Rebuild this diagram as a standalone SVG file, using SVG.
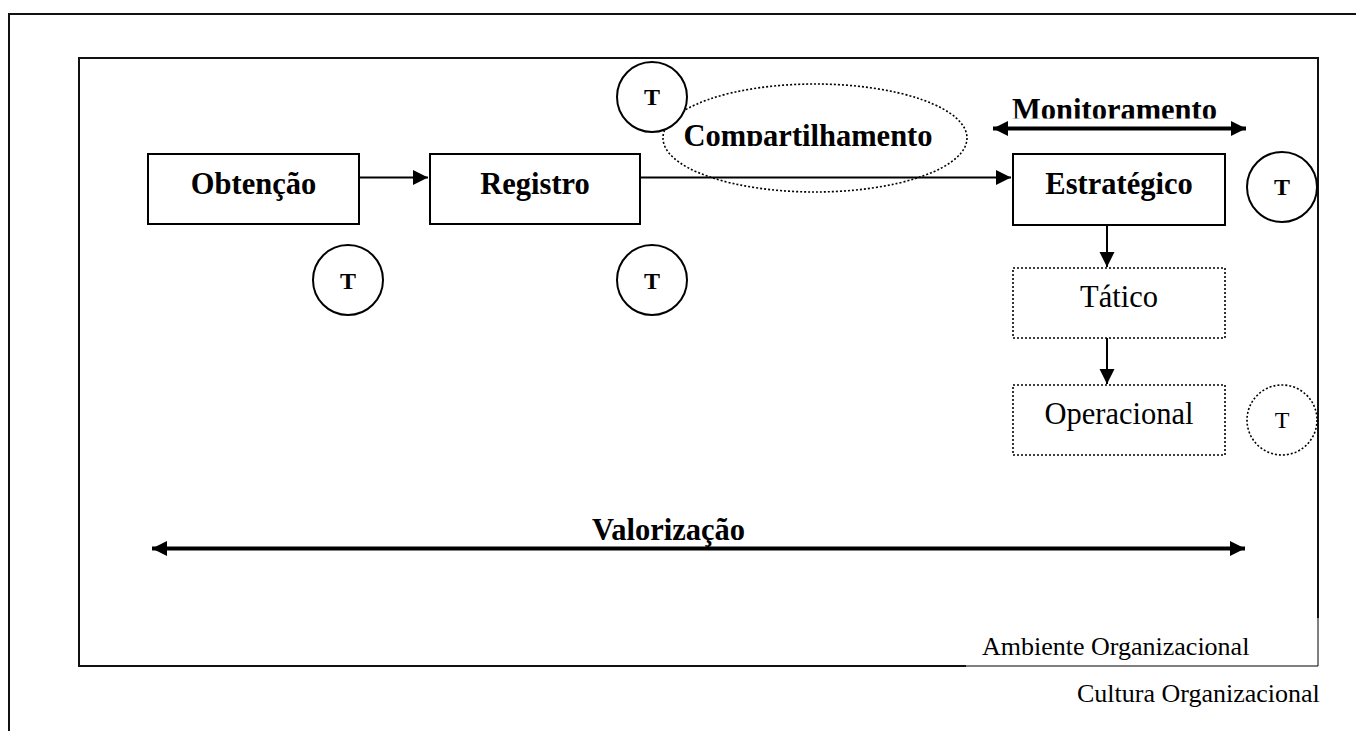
<svg xmlns="http://www.w3.org/2000/svg" width="1356" height="731" viewBox="0 0 1356 731">
<style>
.frame{fill:none;stroke:#111;stroke-width:2}
.box{fill:#fff;stroke:#000;stroke-width:2}
.dbox{fill:#fff;stroke:#000;stroke-width:1.6;stroke-dasharray:2 2}
.circ{fill:#fff;stroke:#000;stroke-width:2}
.dcirc{fill:#fff;stroke:#000;stroke-width:1.6;stroke-dasharray:2 2}
.lb{font-family:"Liberation Serif","Times New Roman",serif;font-weight:bold;font-size:30.5px;fill:#000}
.lr{font-family:"Liberation Serif","Times New Roman",serif;font-size:30.5px;fill:#000}
.tb{font-family:"Liberation Serif","Times New Roman",serif;font-weight:bold;font-size:24px;fill:#000}
.tr{font-family:"Liberation Serif","Times New Roman",serif;font-size:24px;fill:#000}
.sm{font-family:"Liberation Serif","Times New Roman",serif;font-size:26px;fill:#000}
.ar{fill:none;stroke:#000;stroke-width:2}
.thick{fill:none;stroke:#000;stroke-width:4}
</style>
<defs>
<marker id="ah" markerUnits="userSpaceOnUse" markerWidth="16" markerHeight="16" refX="15" refY="7.5" orient="auto-start-reverse" viewBox="0 0 16 16">
<path d="M0,0 L15,7.5 L0,15 z" fill="#000"/>
</marker>
<clipPath id="clipMon"><rect x="980" y="80" width="260" height="38.5"/></clipPath>
<clipPath id="clipComp"><rect x="660" y="100" width="300" height="46"/></clipPath>
</defs>
<g id="cultura">
<path class="frame" d="M9,731 V14 H1356"/>
<text class="sm" x="1077" y="702">Cultura Organizacional</text>
</g>
<g id="ambiente">
<rect class="frame" x="79" y="58" width="1239" height="608"/>
<rect x="966" y="618" width="354" height="50" fill="#fff"/>
<path d="M966,666 H1318 V618" fill="none" stroke="#000" stroke-width="1"/>
<text class="sm" x="982" y="655">Ambiente Organizacional</text>
</g>
<g id="compartilhamento">
<ellipse class="dcirc" cx="815" cy="138" rx="152" ry="54" style="fill:none"/>
<text class="lb" x="808" y="145.5" text-anchor="middle" clip-path="url(#clipComp)">Compartilhamento</text>
</g>
<g id="connectors">
<line class="ar" x1="359" y1="177.5" x2="428" y2="177.5" marker-end="url(#ah)"/>
<line class="ar" x1="640" y1="177.5" x2="1011" y2="177.5" marker-end="url(#ah)"/>
<line class="ar" x1="1107" y1="225" x2="1107" y2="267" marker-end="url(#ah)"/>
<line class="ar" x1="1107" y1="338" x2="1107" y2="384" marker-end="url(#ah)"/>
<line class="thick" x1="993" y1="128.5" x2="1246" y2="128.5" marker-start="url(#ah)" marker-end="url(#ah)"/>
<line class="thick" x1="152" y1="548.5" x2="1245" y2="548.5" marker-start="url(#ah)" marker-end="url(#ah)"/>
</g>
<g id="obtencao">
<rect class="box" x="148" y="154" width="211" height="70"/>
<text class="lb" x="253.5" y="194" text-anchor="middle">Obtenção</text>
</g>
<g id="registro">
<rect class="box" x="430" y="154" width="210" height="70"/>
<text class="lb" x="535" y="194" text-anchor="middle">Registro</text>
</g>
<g id="estrategico">
<rect class="box" x="1013" y="154" width="212" height="71"/>
<text class="lb" x="1119" y="194" text-anchor="middle">Estratégico</text>
</g>
<g id="tatico">
<rect class="dbox" x="1013" y="268" width="212" height="70"/>
<text class="lr" x="1119" y="307" text-anchor="middle">Tático</text>
</g>
<g id="operacional">
<rect class="dbox" x="1013" y="385" width="212" height="70"/>
<text class="lr" x="1119" y="424" text-anchor="middle">Operacional</text>
</g>
<g id="monitoramento">
<text class="lb" x="1114.5" y="119.5" text-anchor="middle" clip-path="url(#clipMon)">Monitoramento</text>
</g>
<g id="valorizacao">
<text class="lb" x="668.5" y="540" text-anchor="middle">Valorização</text>
</g>
<g id="t-registro-top">
<circle class="circ" cx="652" cy="97" r="35"/>
<text class="tb" x="652" y="105" text-anchor="middle">T</text>
</g>
<g id="t-obtencao">
<circle class="circ" cx="348" cy="280" r="35"/>
<text class="tb" x="348" y="288.5" text-anchor="middle">T</text>
</g>
<g id="t-registro">
<circle class="circ" cx="652" cy="280" r="35"/>
<text class="tb" x="652" y="288.5" text-anchor="middle">T</text>
</g>
<g id="t-estrategico">
<circle class="circ" cx="1282" cy="187" r="35"/>
<text class="tb" x="1282" y="195" text-anchor="middle">T</text>
</g>
<g id="t-operacional">
<circle class="dcirc" cx="1282" cy="420" r="35"/>
<text class="tr" x="1282" y="428" text-anchor="middle">T</text>
</g>
</svg>
